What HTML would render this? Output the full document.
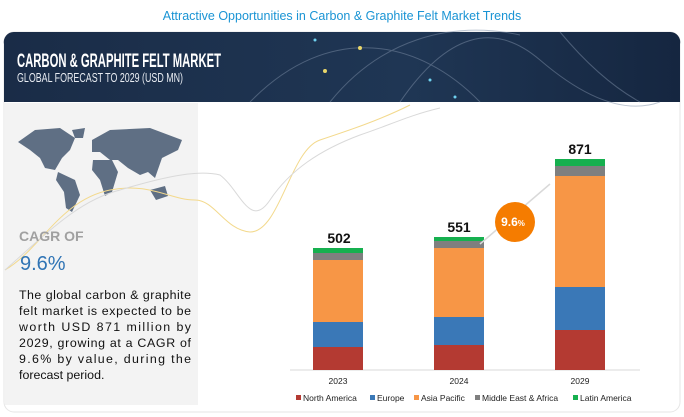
<!DOCTYPE html>
<html><head><meta charset="utf-8"><style>
body{margin:0;width:684px;height:417px;background:#fff;overflow:hidden;font-family:"Liberation Sans",sans-serif}
</style></head><body>
<svg width="684" height="417" xmlns="http://www.w3.org/2000/svg" style="position:absolute;left:0;top:0">
<defs><linearGradient id="hd" x1="0" x2="1"><stop offset="0" stop-color="#1a2c47"/><stop offset="0.6" stop-color="#1f3654"/><stop offset="1" stop-color="#152640"/></linearGradient></defs>
<text x="342" y="20" text-anchor="middle" font-size="12.5" fill="#1a94d4">Attractive Opportunities in Carbon &amp; Graphite Felt Market Trends</text>
<rect x="4" y="32" width="676" height="380" rx="10" fill="#fff" stroke="#e6e6e6"/>
<path d="M4 44 a10 10 0 0 1 10 -12 H670 a10 10 0 0 1 10 12 V102 H4Z" fill="url(#hd)"/>
<g stroke="#7d8ea6" stroke-width="1" fill="none" opacity="0.5">
<path d="M250 102 C330 20 420 40 480 102"/><path d="M330 102 C380 40 450 20 520 35"/><path d="M400 102 Q470 0 540 60 T660 102"/><path d="M560 32 Q600 80 640 102"/></g>
<circle cx="325" cy="71" r="2" fill="#e9d76a"/><circle cx="360" cy="48" r="2" fill="#e9d76a"/><circle cx="315" cy="40" r="1.5" fill="#6fd1ef"/><circle cx="455" cy="97" r="1.5" fill="#6fd1ef"/><circle cx="430" cy="80" r="1.5" fill="#6fd1ef"/>
<text x="17" y="67" font-size="19" font-weight="bold" fill="#fff" textLength="204" lengthAdjust="spacingAndGlyphs">CARBON &amp; GRAPHITE FELT MARKET</text>
<text x="17" y="82" font-size="13" fill="#e8ecf2" textLength="166" lengthAdjust="spacingAndGlyphs">GLOBAL FORECAST TO 2029 (USD MN)</text>
<rect x="5" y="103" width="193" height="302" fill="#f3f3f3"/>
<g fill="#5f6f84">
<path d="M18 142 L35 130 L60 128 L75 138 L70 150 L62 158 L55 170 L45 168 L40 158 L30 150 Z"/>
<path d="M58 172 L75 180 L80 195 L72 212 L66 208 L64 192 L56 180 Z"/>
<path d="M72 130 L85 128 L83 138 L75 138Z"/>
<path d="M92 140 L110 130 L150 128 L182 140 L178 150 L162 158 L155 178 L148 172 L140 175 L128 168 L118 160 L110 160 L100 152 L92 152 Z"/>
<path d="M93 160 L112 160 L118 172 L112 192 L105 196 L100 180 L92 170 Z"/>
<path d="M150 190 L165 186 L168 196 L156 200 Z"/>
</g>
<g fill="none" stroke-width="1">
<path d="M5 270 C40 250 60 200 110 190 C150 182 170 200 195 200 C215 200 225 230 250 232 C280 232 290 150 320 140 C350 130 380 120 410 105" stroke="#f3d98c"/>
<path d="M5 270 C50 230 80 200 120 190 C170 175 200 170 220 175 C240 190 250 230 270 200 C290 170 320 150 360 135 C390 125 410 115 440 108" stroke="#d9d9d9"/>
</g>
<text x="19" y="241" font-size="14" font-weight="bold" fill="#a0a0a0">CAGR OF</text>
<text x="20" y="270" font-size="20" fill="#2f74b5">9.6%</text>
<g font-size="12.4" fill="#111">
<text x="19" y="299" textLength="172" lengthAdjust="spacing">The global carbon &amp; graphite</text>
<text x="19" y="315" textLength="172" lengthAdjust="spacing">felt market is expected to be</text>
<text x="19" y="331" textLength="172" lengthAdjust="spacing">worth USD    871 million by</text>
<text x="19" y="347" textLength="172" lengthAdjust="spacing">2029, growing at a CAGR of</text>
<text x="19" y="363" textLength="172" lengthAdjust="spacing">9.6% by value, during the</text>
<text x="19" y="379">forecast period.</text>
</g>
<line x1="290" y1="370" x2="640" y2="370" stroke="#d9d9d9"/>
<g>
<rect x="313" y="347" width="50" height="23" fill="#b43a32"/><rect x="313" y="322" width="50" height="25" fill="#3a78b7"/><rect x="313" y="260" width="50" height="62" fill="#f79646"/><rect x="313" y="253" width="50" height="7" fill="#7f7f7f"/><rect x="313" y="248" width="50" height="5" fill="#16b04f"/>
<rect x="434" y="345" width="50" height="25" fill="#b43a32"/><rect x="434" y="317" width="50" height="28" fill="#3a78b7"/><rect x="434" y="248" width="50" height="69" fill="#f79646"/><rect x="434" y="241" width="50" height="7" fill="#7f7f7f"/><rect x="434" y="237" width="50" height="4" fill="#16b04f"/>
<rect x="555" y="330" width="50" height="40" fill="#b43a32"/><rect x="555" y="287" width="50" height="43" fill="#3a78b7"/><rect x="555" y="176" width="50" height="111" fill="#f79646"/><rect x="555" y="166" width="50" height="10" fill="#7f7f7f"/><rect x="555" y="159" width="50" height="7" fill="#16b04f"/>
</g>
<g font-size="14" font-weight="bold" fill="#111" text-anchor="middle"><text x="339" y="243">502</text><text x="459" y="232">551</text><text x="580" y="154">871</text></g>
<line x1="480" y1="244" x2="550" y2="184" stroke="#d9d9d9" stroke-width="1.5"/>
<circle cx="515" cy="222" r="20" fill="#f57c00"/>
<text x="513" y="226" text-anchor="middle" font-size="12" font-weight="bold" fill="#fff">9.6<tspan font-size="8">%</tspan></text>
<g font-size="8.5" fill="#222" text-anchor="middle"><text x="338" y="384">2023</text><text x="459" y="384">2024</text><text x="580" y="384">2029</text></g>
<g font-size="8.5" fill="#222">
<rect x="296" y="395" width="5" height="5" fill="#b43a32"/><text x="303" y="401">North America</text>
<rect x="370" y="395" width="5" height="5" fill="#3a78b7"/><text x="377" y="401">Europe</text>
<rect x="414" y="395" width="5" height="5" fill="#f79646"/><text x="421" y="401">Asia Pacific</text>
<rect x="475" y="395" width="5" height="5" fill="#7f7f7f"/><text x="482" y="401">Middle East &amp; Africa</text>
<rect x="573" y="395" width="5" height="5" fill="#16b04f"/><text x="580" y="401">Latin America</text>
</g>
</svg>
</body></html>
